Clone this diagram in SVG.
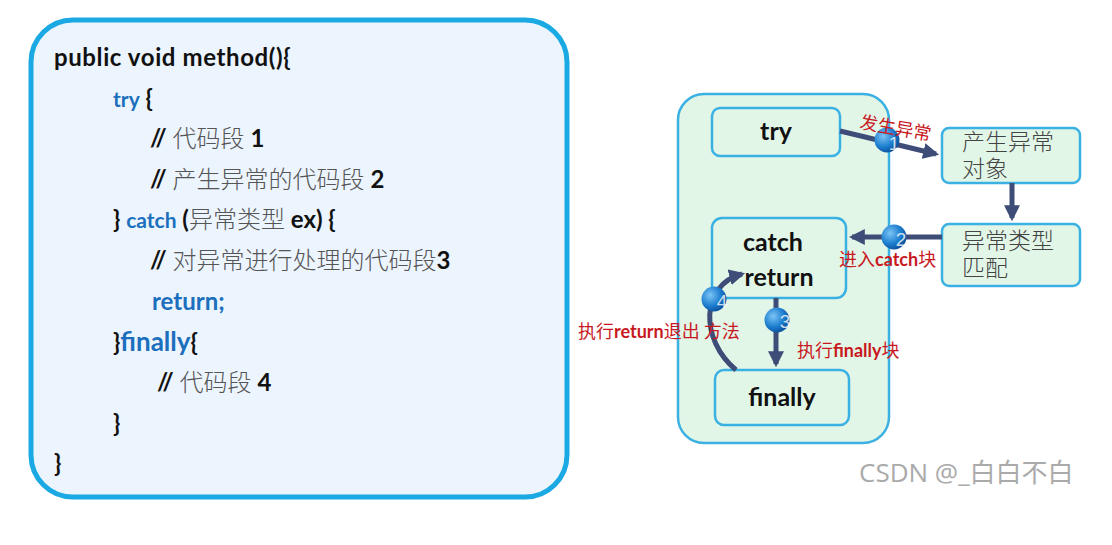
<svg xmlns="http://www.w3.org/2000/svg" width="1112" height="545" viewBox="0 0 1112 545">
<defs>
<style>
.code{font-family:Lato,"Liberation Sans","Noto Sans CJK SC",sans-serif;font-weight:bold;font-size:24px;fill:#111}
.kw{fill:#1b6fbd}
.cn{font-family:"Noto Sans CJK SC",sans-serif;font-weight:300;fill:#555}
.box{fill:#e2f6e8;stroke:#3ab1e2;stroke-width:2.5}
.lbl{font-family:Lato,"Liberation Sans","Noto Sans CJK SC",sans-serif;font-weight:bold;font-size:25px;fill:#111;text-anchor:middle}
.cnb{font-family:"Liberation Sans","Noto Sans CJK SC",sans-serif;font-weight:300;font-size:23px;fill:#444}
.red{font-family:Lato,"Liberation Sans","Noto Sans CJK SC",sans-serif;font-weight:bold;font-size:18px;fill:#c8191f}
.rc{font-family:"Noto Sans CJK SC",sans-serif;font-weight:400}
.arr{fill:none;stroke:#3d4d78;stroke-width:5;marker-end:url(#ah)}
.num{font-family:"Liberation Sans",sans-serif;font-size:19px;fill:#fff;fill-opacity:0.8;text-anchor:middle}
</style>
<marker id="ah" viewBox="0 0 10 10" refX="8" refY="5" markerWidth="3.2" markerHeight="3.2" orient="auto" markerUnits="strokeWidth">
<path d="M0,0 L10,5 L0,10 z" fill="#3d4d78"/>
</marker>
<radialGradient id="ball" cx="0.35" cy="0.35" r="0.7">
<stop offset="0" stop-color="#7cc4f5"/>
<stop offset="0.6" stop-color="#1e7fd0"/>
<stop offset="1" stop-color="#0a4f9a"/>
</radialGradient>
</defs>
<rect width="1112" height="545" fill="#fff"/>

<g id="code-panel">
<rect x="31" y="20" width="536" height="477" rx="42" fill="#ecf4fd" stroke="#1aa9e2" stroke-width="5"/>
<text class="code" x="54" y="66" font-size="27" letter-spacing="0.6">public void method(){</text>
<text class="code" x="113" y="107"><tspan class="kw" font-size="21">try</tspan> {</text>
<text class="code" x="150" y="147">// <tspan class="cn">代码段</tspan> 1</text>
<text class="code" x="150" y="188">// <tspan class="cn">产生异常的代码段</tspan> 2</text>
<text class="code" x="113" y="228">} <tspan class="kw" font-size="21">catch</tspan> (<tspan class="cn">异常类型</tspan> ex) {</text>
<text class="code" x="150" y="269">// <tspan class="cn">对异常进行处理的代码段</tspan>3</text>
<text class="code kw" x="152" y="310" font-size="21">return;</text>
<text class="code" x="113" y="351">}<tspan class="kw" font-size="26">finally</tspan>{</text>
<text class="code" x="157" y="391">// <tspan class="cn">代码段</tspan> 4</text>
<text class="code" x="113" y="432">}</text>
<text class="code" x="54" y="472">}</text>
</g>

<g id="method-container">
<rect x="678" y="94" width="211" height="349" rx="26" class="box" stroke-width="2"/>
</g>
<g id="try-node">
<rect x="712" y="108" width="128" height="48" rx="8" class="box"/>
<text class="lbl" x="776" y="140">try</text>
</g>
<g id="catch-node">
<rect x="712" y="218" width="134" height="80" rx="10" class="box"/>
<text class="lbl" x="773" y="251">catch</text>
<text class="lbl" x="779" y="286">return</text>
</g>
<g id="finally-node">
<rect x="715" y="370" width="134" height="55" rx="9" class="box"/>
<text class="lbl" x="782" y="406">finally</text>
</g>
<g id="create-node">
<rect x="942" y="128" width="138" height="55" rx="7" class="box"/>
<text class="cnb"><tspan x="962" y="150">产生异常</tspan><tspan x="962" y="177">对象</tspan></text>
</g>
<g id="match-node">
<rect x="942" y="224" width="138" height="62" rx="7" class="box"/>
<text class="cnb"><tspan x="962" y="249">异常类型</tspan><tspan x="962" y="276">匹配</tspan></text>
</g>

<g id="connectors">
<path class="arr" d="M840,131 L936,154"/>
<path class="arr" d="M1012,183 L1012,218"/>
<path class="arr" d="M942,237 L852,237"/>
<path class="arr" d="M776,298 L776,364"/>
<path class="arr" d="M736,370 C700,340 700,285 742,274"/>
</g>

<g id="markers">
<circle cx="887" cy="140" r="12.5" fill="url(#ball)"/>
<text class="num" x="894" y="150">1</text>
<circle cx="894" cy="237" r="12.5" fill="url(#ball)"/>
<text class="num" x="901" y="246">2</text>
<circle cx="777" cy="320" r="12.5" fill="url(#ball)"/>
<text class="num" x="785" y="328">3</text>
<circle cx="714" cy="299" r="12.5" fill="url(#ball)"/>
<text class="num" x="722" y="308">4</text>
</g>

<g id="labels">
<text class="red rc" x="859" y="128" font-size="19" transform="rotate(10 859 128)">发生异常</text>
<text class="red" x="839" y="266"><tspan class="rc">进入</tspan>catch<tspan class="rc">块</tspan></text>
<text class="red" x="578" y="338" font-size="19"><tspan class="rc">执行</tspan>return<tspan class="rc">退出 方法</tspan></text>
<text class="red" x="797" y="357" font-size="19"><tspan class="rc">执行</tspan>finally<tspan class="rc">块</tspan></text>
</g>

<text x="859" y="482" font-family="'Open Sans','Noto Sans CJK SC',sans-serif" font-size="26" fill="#aaa">CSDN @_白白不白</text>
</svg>
